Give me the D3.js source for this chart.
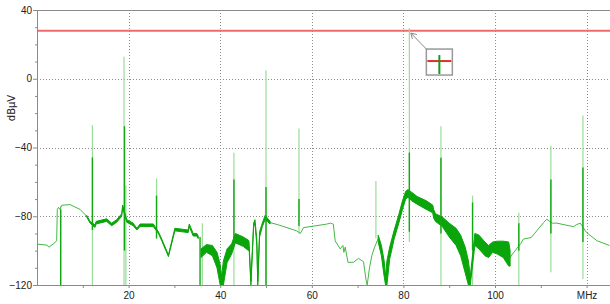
<!DOCTYPE html>
<html lang="en">
<head>
<meta charset="UTF-8">
<title>Spectrum scan</title>
<script src="https://d3js.org/d3.v7.min.js"></script>
<style>
  body { margin: 0; background: #fff; }
  svg { display: block; font-family: "DejaVu Sans", sans-serif; font-size: 10px; }
  .axis path, .axis line { stroke: #8a8a8a; }
  .axis text { fill: #222; }
  .grid line { stroke: #8c8c8c; stroke-dasharray: 1,2; }
  .trace { fill: none; stroke: #45b845; stroke-width: 1; }
  .band { fill: #0aa50a; stroke: #0aa50a; stroke-width: 1; }
  .spike-light { stroke: #9adc9a; stroke-width: 1.2; }
  .spike-dark { stroke: #12a812; stroke-width: 1.4; }
</style>
</head>
<body>
<script>
// axis ticks
const freqTicks = [20, 40, 60, 80, 100, 120];
const freqMinorTicks = [10, 30, 50, 70, 90, 110];
const levelTicks = [40, 0, -40, -80, -120];
const levelMinorTicks = [30, 20, 10, -10, -20, -30, -50, -60, -70, -90, -100, -110];
const limitLevel = 28;

// thin trace segments [MHz, dBµV]
const traceLow = [[0.05,-120],[0.07,-96.2],[2.2,-96.8],[2.6,-98],[3.5,-96.2],[4.3,-94.3],[4.43,-76],
  [4.7,-74.8],[5.0,-76],[5.4,-73.6],[7.2,-73.2],[9.4,-76],[10.85,-80]];
const traceMid = [[50.9,-83.7],[52.7,-85],[56.7,-88.5],[57.5,-90],[58.2,-86.6],[63.2,-84.6],[64.1,-84],
  [64.7,-84.6],[65.1,-94.3],[66.2,-99],[66.8,-97],[67.0,-101],[67.3,-98],[67.9,-106.8],[69.1,-106.8],
  [70.2,-104.5],[71.3,-106.5],[71.8,-116.5],[72.1,-120],[72.6,-110],[73.1,-103],[73.7,-98],[74.5,-93]];
const traceHigh = [[103.3,-104],[103.8,-102],[105.6,-96],[106.2,-93.3],[107.9,-92.4],[110.6,-83.7],
  [111.3,-81.7],[112.5,-84],[113.5,-84],[116.3,-85.6],[117.2,-86],[117.7,-85],[118.6,-84],
  [120.0,-89.5],[122.3,-94.3],[125,-97]];

// dense (dark) trace regions [MHz, upper, lower]
const bandA = [[10.85,-79.5,-80.5],[11.6,-83,-84],[12.66,-85,-86.5],[12.9,-83,-84.5],[15.2,-81.5,-83],
  [16.3,-84,-85.5],[17.4,-82,-83.5],[18.5,-78.5,-80],[18.7,-73.5,-75],[19.6,-82,-83.5],[21.0,-84,-85.5],
  [21.8,-87,-88],[22.5,-84.5,-86],[25.4,-84.5,-86],[26.5,-89,-90],[27.2,-93,-94],[28.7,-102.5,-103.5],
  [30.1,-87,-88.5],[33.0,-88,-89.5],[33.25,-84.5,-86],[34.1,-90,-91.5],[34.9,-90,-91.5],[35.2,-91.5,-93]];
const bandB = [[35.8,-99,-104],[37.0,-96.5,-101],[38.3,-97,-103],[39.3,-101,-110],[40.0,-108,-120],
  [40.3,-115,-120],[40.7,-106,-120],[41.5,-99,-107],[42.5,-96,-102],[43.3,-90,-95.5],[45.0,-92,-97.5],
  [46.2,-94,-100],[46.3,-95,-98],[46.7,-118,-120],[47.3,-84,-86],[47.6,-82,-84.5],[48.0,-94,-97],
  [48.2,-118,-120],[48.6,-89,-92],[49.2,-84,-86],[49.8,-79.5,-82],[50.3,-81,-83],[50.9,-83,-84.5]];
const bandC = [[74.5,-91,-95],[75.2,-97,-103],[75.8,-106,-115],[76.1,-115,-120],[76.4,-106,-120],
  [77.0,-98,-105],[78.0,-88,-93],[79.0,-79,-84],[79.8,-71,-76],[80.5,-65.5,-70],[81.0,-64.5,-69],
  [81.8,-66,-71],[83.0,-68.5,-73],[85.0,-71,-76],[86.4,-73.5,-78],[86.6,-76,-81],[87.0,-78.5,-83],
  [88.5,-80.5,-86],[90,-84,-92],[91.5,-87,-97],[92.5,-91,-103],[93.5,-98,-113],[94.2,-106,-120],
  [94.6,-115,-120],[95.6,-90,-97],[96.5,-91,-99],[97.8,-95,-103],[98.6,-97,-104],[99.5,-95,-101],
  [100.5,-94.5,-102],[101.8,-94.5,-104],[103.0,-95,-109],[103.3,-100,-109]];

// spikes [MHz, top, bottom]
const spikesLight = [[5.17,-74,-120],[12.1,-27,-120],[19.0,12.8,-120],[19.4,-62,-120],[26.1,-58,-90],
  [36.1,-84,-120],[43.0,-43,-120],[50.0,5,-120],[57.2,-29,-90],[74.0,-59.5,-93],[81.3,29.5,-95],
  [88.2,-27.6,-120],[95.1,-68,-120],[105.2,-78,-120],[112.2,-39,-112.6],[119.2,-21.4,-116.5]];
const spikesDark = [[0.05,-96,-120],[5.17,-76,-120],[12.1,-45.8,-88],[19.1,-27.6,-100],[26.1,-68,-93],
  [35.6,-92,-120],[43.0,-58.6,-95],[50.0,-63,-120],[57.2,-70,-85.6],[81.3,-43,-89],
  [88.2,-46,-90],[95.1,-72,-100],[105.2,-84,-100],[112.2,-58.6,-90],[119.2,-51.6,-95]];

const marker = [81.3, 29.5];

const width = 610, height = 304;
const plotLeft = 37, plotTop = 10, plotBottom = 285;

const x = d3.scaleLinear().domain([0, 125]).range([plotLeft, 609.5]);
const y = d3.scaleLinear().domain([-120, 40]).range([plotBottom, plotTop]);

const svg = d3.select("body").append("svg")
  .attr("width", width).attr("height", height);

svg.append("defs").append("clipPath").attr("id", "plot")
  .append("rect").attr("x", plotLeft).attr("y", plotTop)
  .attr("width", width - plotLeft).attr("height", plotBottom - plotTop);

// grid
const grid = svg.append("g").attr("class", "grid");
grid.selectAll(".gv").data(freqTicks).enter().append("line")
  .attr("x1", d => Math.round(x(d)) + 0.5).attr("x2", d => Math.round(x(d)) + 0.5)
  .attr("y1", plotTop).attr("y2", plotBottom);
grid.selectAll(".gh").data([0, -40, -80]).enter().append("line")
  .attr("x1", plotLeft).attr("x2", width)
  .attr("y1", d => Math.round(y(d)) + 0.5).attr("y2", d => Math.round(y(d)) + 0.5);

// limit line
svg.append("line")
  .attr("x1", plotLeft).attr("x2", width)
  .attr("y1", y(limitLevel)).attr("y2", y(limitLevel))
  .attr("stroke", "#ef6b6b").attr("stroke-width", 2);

// data
const plot = svg.append("g").attr("clip-path", "url(#plot)");
const line = d3.line().x(d => x(d[0])).y(d => y(d[1]));
const area = d3.area().x(d => x(d[0])).y0(d => y(d[2])).y1(d => y(d[1]));

plot.selectAll(".spike-light").data(spikesLight).enter().append("line")
  .attr("class", "spike-light")
  .attr("x1", d => x(d[0])).attr("x2", d => x(d[0]))
  .attr("y1", d => y(d[1])).attr("y2", d => y(d[2]));

plot.selectAll(".trace").data([traceLow, traceMid, traceHigh]).enter().append("path")
  .attr("class", "trace").attr("d", line);

plot.selectAll(".band").data([bandA, bandB, bandC]).enter().append("path")
  .attr("class", "band").attr("d", area);

plot.selectAll(".spike-dark").data(spikesDark).enter().append("line")
  .attr("class", "spike-dark")
  .attr("x1", d => x(d[0])).attr("x2", d => x(d[0]))
  .attr("y1", d => y(d[1])).attr("y2", d => y(d[2]));

// axes
svg.append("g").attr("class", "axis")
  .attr("transform", `translate(0,${plotBottom})`)
  .call(d3.axisBottom(x).tickValues(freqMinorTicks).tickSize(3).tickFormat(""))
  .select(".domain").remove();
const xAxis = svg.append("g").attr("class", "axis")
  .attr("transform", `translate(0,${plotBottom})`)
  .call(d3.axisBottom(x).tickValues(freqTicks).tickSize(3).tickSizeOuter(0).tickPadding(4)
    .tickFormat(d => d === 120 ? "MHz" : d));
xAxis.select(".domain").attr("d", `M${plotLeft},0.5H${width}`);

svg.append("g").attr("class", "axis")
  .attr("transform", `translate(${plotLeft},0)`)
  .call(d3.axisLeft(y).tickValues(levelMinorTicks).tickSize(2).tickFormat(""))
  .select(".domain").remove();
svg.append("g").attr("class", "axis")
  .attr("transform", `translate(${plotLeft},0)`)
  .call(d3.axisLeft(y).tickValues(levelTicks).tickSize(4).tickSizeOuter(0).tickPadding(1));

svg.append("line")
  .attr("x1", plotLeft).attr("x2", width).attr("y1", plotTop + 0.5).attr("y2", plotTop + 0.5)
  .attr("stroke", "#8a8a8a");

svg.append("text")
  .attr("transform", "translate(15,108) rotate(-90)")
  .attr("text-anchor", "middle").attr("fill", "#222")
  .text("dBµV");

// marker box with arrow to the peak
const mx = x(marker[0]), my = y(marker[1]);
const box = svg.append("g").attr("transform", `translate(${mx + 17},${my + 21})`);
svg.append("line")
  .attr("x1", mx + 1.5).attr("y1", my + 5).attr("x2", mx + 17).attr("y2", my + 21)
  .attr("stroke", "#8a8a8a").attr("stroke-width", 1);
svg.append("path")
  .attr("d", `M${mx + 1.5},${my + 5}l1.5,6M${mx + 1.5},${my + 5}l6,1.5`)
  .attr("stroke", "#8a8a8a").attr("fill", "none");
box.append("rect").attr("x", 0).attr("y", 0).attr("width", 26).attr("height", 26)
  .attr("fill", "#fff").attr("stroke", "#999").attr("stroke-width", 1.5);
box.append("line").attr("x1", 1).attr("x2", 25).attr("y1", 12).attr("y2", 12)
  .attr("stroke", "#e0302a").attr("stroke-width", 2);
box.append("line").attr("x1", 13).attr("x2", 13).attr("y1", 6).attr("y2", 25)
  .attr("stroke", "#1a9a1a").attr("stroke-width", 2);
</script>
</body>
</html>
